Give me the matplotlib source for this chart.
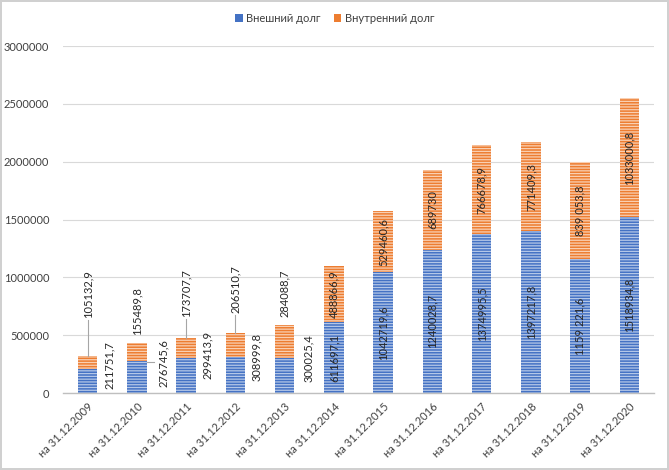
import matplotlib.pyplot as plt
from matplotlib.patches import Patch

plt.rcParams['font.family'] = ['Lato', 'DejaVu Sans']
plt.rcParams['hatch.linewidth'] = 0.9

dates = ['на 31.12.2009', 'на 31.12.2010', 'на 31.12.2011', 'на 31.12.2012',
         'на 31.12.2013', 'на 31.12.2014', 'на 31.12.2015', 'на 31.12.2016',
         'на 31.12.2017', 'на 31.12.2018', 'на 31.12.2019', 'на 31.12.2020']
external = [211751.7, 276745.6, 299413.9, 308999.8, 300025.4, 611697.1,
            1042719.6, 1240028.7, 1374995.5, 1397217.8, 1159221.6, 1518934.8]
internal = [105132.9, 155489.8, 173707.7, 206510.7, 284088.7, 488866.9,
            529460.6, 689730.0, 766678.9, 771409.3, 839053.8, 1033000.8]
external_labels = ['211751,7', '276745,6', '299413,9', '308999,8', '300025,4', '611697,1',
                   '1042719,6', '1240028,7', '1374995,5', '1397217,8', '1159 221,6', '1518934,8']
internal_labels = ['105132,9', '155489,8', '173707,7', '206510,7', '284088,7', '488866,9',
                   '529460,6', '689730', '766678,9', '771409,3', '839 053,8', '1033000,8']

# manual label placement for the small bars (first five)
n_out = 5
top_label_bottom = [648000, 501000, 657000, 692000, 657000]
side_label_center = [245000, 255000, 325000, 310000, 300000]
side_label_dx = [0.45, 0.54, 0.43, 0.43, 0.49]

blue = '#4472C4'
blue_stripe = '#B4C7E7'
orange = '#ED7D31'
orange_stripe = '#F9D0B3'
txt = '#262626'

fig = plt.figure(figsize=(6.69, 4.70), dpi=100)
fig.patch.set_edgecolor('#D0D0D0')
fig.patch.set_linewidth(1.5)
ax = fig.add_axes([0.0942, 0.1638, 0.8834, 0.7383])

x = list(range(len(dates)))
w = 0.40
ax.bar(x, external, w, color=blue, edgecolor=blue_stripe, linewidth=0, hatch='------', zorder=2)
ax.bar(x, internal, w, bottom=external, color=orange, edgecolor=orange_stripe, linewidth=0,
       hatch='------', zorder=2)

fs = 8
for i in x:
    total = external[i] + internal[i]
    if i < n_out:
        yb = top_label_bottom[i]
        ax.text(i, yb, internal_labels[i], rotation=90, ha='center', va='bottom',
                fontsize=fs, color=txt, zorder=4)
        if yb - total > 130000:
            ax.plot([i, i], [total, yb - 15000], color='#A6A6A6', lw=0.8, zorder=3)
        ax.text(i + side_label_dx[i], side_label_center[i], external_labels[i], rotation=90,
                ha='center', va='center', fontsize=fs, color=txt, zorder=4)
        if side_label_dx[i] > 0.5:
            ax.plot([i + w / 2, i + 0.34], [268000, 268000], color='#A6A6A6', lw=0.8, zorder=3)
    else:
        ax.text(i, external[i] / 2, external_labels[i], rotation=90, ha='center', va='center',
                fontsize=fs, color=txt, zorder=4)
        ax.text(i, external[i] + internal[i] / 2, internal_labels[i], rotation=90,
                ha='center', va='center', fontsize=fs, color=txt, zorder=4)

ax.set_xlim(-0.5, len(dates) - 0.5)
ax.set_ylim(0, 3000000)
ax.set_yticks(range(0, 3000001, 500000))
ax.set_yticklabels([str(v) for v in range(0, 3000001, 500000)])
ax.set_xticks(x)
ax.set_xticklabels(dates, rotation=45, ha='right', rotation_mode='anchor')
ax.tick_params(axis='both', length=0, labelsize=fs, labelcolor='#404040')
ax.tick_params(axis='y', pad=10)
ax.tick_params(axis='x', pad=6)
ax.grid(axis='y', color='#D9D9D9', lw=0.8, zorder=0)
ax.set_axisbelow(True)
for s in ['top', 'right', 'left']:
    ax.spines[s].set_visible(False)
ax.spines['bottom'].set_color('#BFBFBF')
ax.spines['bottom'].set_linewidth(1.0)

handles = [Patch(facecolor=blue, label='Внешний долг'),
           Patch(facecolor=orange, label='Внутренний долг')]
fig.legend(handles=handles, loc='center', bbox_to_anchor=(0.5, 1 - 18 / 470), ncol=2,
           frameon=False, fontsize=fs, handlelength=0.7, handleheight=0.7,
           handletextpad=0.3, columnspacing=1.2, labelcolor='#404040')

fig.savefig('out.png', dpi=100)
